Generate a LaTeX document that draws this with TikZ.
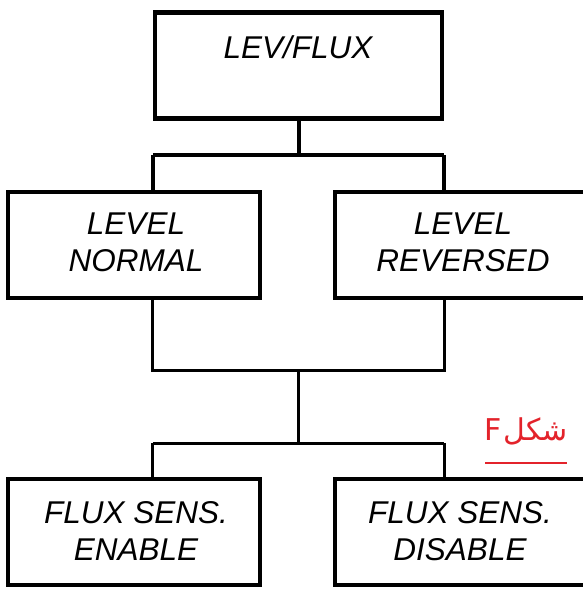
\documentclass[tikz,border=0pt]{standalone}
\usepackage{fontspec}
\setmainfont{Liberation Sans}
\newfontfamily\arabicfont[Script=Arabic]{DejaVu Sans}
\TeXXeTstate=1
\definecolor{figred}{HTML}{E3232B}
\begin{document}
\begin{tikzpicture}[x=1pt,y=-1pt,
  box/.style={draw=black,line width=4.5pt,minimum width=#1,minimum height=106pt,inner sep=0pt},
  lbl/.style={inner sep=0pt,align=center,font=\fontsize{31.5}{37}\selectfont\itshape},
  connA/.style={line width=4pt},
  connB/.style={line width=3pt},
  redline/.style={draw=figred,line width=2pt}]
\useasboundingbox (0,0) rectangle (583,589);
% boxes
\node[box=287pt] (top) at (298.5,65.5) {};
\node[box=252pt] (ml) at (134,245) {};
\node[box=252pt] (mr) at (461,245) {};
\node[box=252pt] (bl) at (134,532) {};
\node[box=252pt] (br) at (461,532) {};
% labels
\node[lbl] (ttop) at (298,47.5) {LEV/FLUX};
\node[lbl] (tml) at (136,242.5) {LEVEL\\NORMAL};
\node[lbl] (tmr) at (463,242.5) {LEVEL\\REVERSED};
\node[lbl] (tbl) at (136,531) {FLUX SENS.\\ENABLE};
\node[lbl] (tbr) at (460,531) {FLUX SENS.\\DISABLE};
% connectors upper
\coordinate (j1) at (298.5,155);
\coordinate (j2) at (298.5,370);
\coordinate (j3) at (298.5,443);
\draw[connA] (top.south) -- (j1);
\draw[connA] (top.south west |- j1) -- (top.south east |- j1);
\draw[connA] (top.south west |- j1) -- (top.south west |- ml.north);
\draw[connA] (top.south east |- j1) -- (top.south east |- mr.north);
% connectors lower
\draw[connB] (top.south west |- ml.south) -- (top.south west |- j2) -- (top.south east |- j2) -- (top.south east |- mr.south);
\draw[connB] (j2) -- (j3);
\draw[connB] (top.south west |- j3) -- (top.south east |- j3);
\draw[connB] (top.south west |- j3) -- (top.south west |- bl.north);
\draw[connB] (top.south east |- j3) -- (top.south east |- br.north);
% figure label
\node[text=figred,inner sep=0pt,font=\fontsize{30}{34}\selectfont] (fig) at (526,431) {\arabicfont\beginR شکل\kern2pt\beginL F\endL\endR};
\coordinate (ul1) at (485,463);
\coordinate (ul2) at (567,463);
\draw[redline] (ul1) -- (ul2);
\end{tikzpicture}
\end{document}
